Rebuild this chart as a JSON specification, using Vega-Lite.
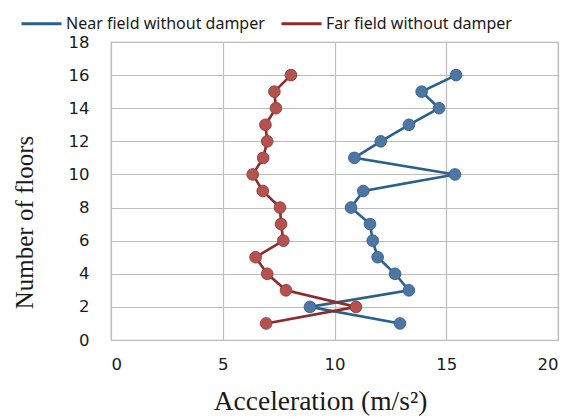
{
  "$schema": "https://vega.github.io/schema/vega-lite/v6.json",
  "width": 447,
  "height": 298,
  "autosize": "none",
  "padding": {"left": 111, "top": 42, "right": 14, "bottom": 77},
  "background": "white",
  "config": {
    "view": {"stroke": "#b3b3b3", "strokeWidth": 1.2},
    "axis": {
      "grid": true,
      "gridColor": "#bdbdbd",
      "gridWidth": 1.2,
      "domain": false,
      "ticks": false,
      "labelFont": "DejaVu Sans",
      "labelFontSize": 16.5,
      "labelColor": "#1a1a1a",
      "titleFont": "Liberation Serif",
      "titleFontWeight": "normal",
      "titleColor": "#1a1a1a"
    }
  },
  "data": {
    "values": [
      {"series": "Near field without damper", "floor": 1, "acc": 12.93},
      {"series": "Near field without damper", "floor": 2, "acc": 8.9},
      {"series": "Near field without damper", "floor": 3, "acc": 13.33},
      {"series": "Near field without damper", "floor": 4, "acc": 12.71},
      {"series": "Near field without damper", "floor": 5, "acc": 11.93},
      {"series": "Near field without damper", "floor": 6, "acc": 11.71},
      {"series": "Near field without damper", "floor": 7, "acc": 11.59},
      {"series": "Near field without damper", "floor": 8, "acc": 10.74},
      {"series": "Near field without damper", "floor": 9, "acc": 11.29},
      {"series": "Near field without damper", "floor": 10, "acc": 15.39},
      {"series": "Near field without damper", "floor": 11, "acc": 10.89},
      {"series": "Near field without damper", "floor": 12, "acc": 12.07},
      {"series": "Near field without damper", "floor": 13, "acc": 13.33},
      {"series": "Near field without damper", "floor": 14, "acc": 14.68},
      {"series": "Near field without damper", "floor": 15, "acc": 13.9},
      {"series": "Near field without damper", "floor": 16, "acc": 15.44},
      {"series": "Far field without damper", "floor": 1, "acc": 6.94},
      {"series": "Far field without damper", "floor": 2, "acc": 10.96},
      {"series": "Far field without damper", "floor": 3, "acc": 7.83},
      {"series": "Far field without damper", "floor": 4, "acc": 6.99},
      {"series": "Far field without damper", "floor": 5, "acc": 6.47},
      {"series": "Far field without damper", "floor": 6, "acc": 7.71},
      {"series": "Far field without damper", "floor": 7, "acc": 7.61},
      {"series": "Far field without damper", "floor": 8, "acc": 7.56},
      {"series": "Far field without damper", "floor": 9, "acc": 6.79},
      {"series": "Far field without damper", "floor": 10, "acc": 6.34},
      {"series": "Far field without damper", "floor": 11, "acc": 6.81},
      {"series": "Far field without damper", "floor": 12, "acc": 6.99},
      {"series": "Far field without damper", "floor": 13, "acc": 6.91},
      {"series": "Far field without damper", "floor": 14, "acc": 7.38},
      {"series": "Far field without damper", "floor": 15, "acc": 7.31},
      {"series": "Far field without damper", "floor": 16, "acc": 8.05}
    ]
  },
  "encoding": {
    "x": {
      "field": "acc",
      "type": "quantitative",
      "scale": {"domain": [0, 20], "nice": false, "zero": false},
      "axis": {
        "values": [0, 5, 10, 15, 20],
        "labelPadding": 16,
        "title": "Acceleration (m/s²)",
        "titleFontSize": 27.5,
        "titleBaseline": "middle",
        "titleAnchor": "middle",
        "titleX": 209,
        "titleY": 61
      }
    },
    "y": {
      "field": "floor",
      "type": "quantitative",
      "scale": {"domain": [0, 18], "nice": false, "zero": false},
      "axis": {
        "values": [0, 2, 4, 6, 8, 10, 12, 14, 16, 18],
        "labelPadding": 22,
        "title": "Number of floors",
        "titleFontSize": 25,
        "titleBaseline": "middle",
        "titleAngle": -90,
        "titleX": -87,
        "titleY": 180
      }
    }
  },
  "layer": [
    {
      "mark": {"type": "line", "strokeWidth": 2.6},
      "encoding": {
        "order": {"field": "floor", "type": "quantitative"},
        "color": {
          "field": "series",
          "type": "nominal",
          "scale": {
            "domain": ["Near field without damper", "Far field without damper"],
            "range": ["#2b5f8c", "#8e2a2a"]
          },
          "legend": {
            "title": null,
            "orient": "none",
            "direction": "horizontal",
            "legendX": -91,
            "legendY": -40,
            "symbolType": "stroke",
            "symbolSize": 1600,
            "symbolStrokeWidth": 3,
            "labelFont": "Noto Sans",
            "labelFontSize": 16,
            "labelLimit": 400,
            "labelColor": "#1a1a1a",
            "labelOffset": 3,
            "columnPadding": 10
          }
        }
      }
    },
    {
      "mark": {"type": "circle", "size": 135, "opacity": 1, "strokeWidth": 1},
      "encoding": {
        "fill": {
          "field": "series",
          "type": "nominal",
          "scale": {
            "domain": ["Near field without damper", "Far field without damper"],
            "range": ["#4d76a3", "#b4524f"]
          },
          "legend": null
        },
        "stroke": {
          "field": "series",
          "type": "nominal",
          "scale": {
            "domain": ["Near field without damper", "Far field without damper"],
            "range": ["#3a6591", "#9c3e3b"]
          },
          "legend": null
        }
      }
    }
  ],
  "resolve": {"scale": {"color": "independent", "fill": "independent", "stroke": "independent"}}
}
